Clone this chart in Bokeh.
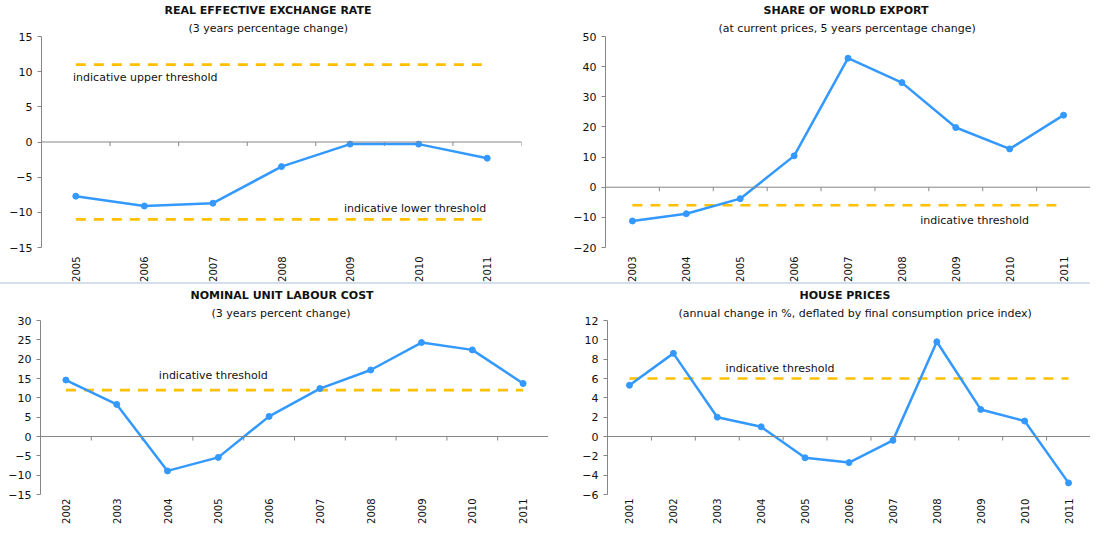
import math
from bokeh.plotting import figure
from bokeh.models import FixedTicker, Title, Range1d, Span
from bokeh.layouts import column, row
from bokeh.embed import file_html
from bokeh.resources import INLINE
from bokeh.core.properties import value

FONT = "DejaVu Sans"
BLUE = "#3399FF"
GOLD = "#FFC000"
AXIS = "#868686"
TXT = "#111111"

# ---------------- data ----------------
reer_years = ["2005", "2006", "2007", "2008", "2009", "2010", "2011"]
reer_values = [-7.7, -9.1, -8.7, -3.5, -0.3, -0.3, -2.3]
reer_thresholds = [11, -11]
reer_label_text = ["indicative upper threshold", "indicative lower threshold"]
reer_label_x = [-0.04, 3.91]
reer_label_y = [9.2, -9.4]

export_years = ["2003", "2004", "2005", "2006", "2007", "2008", "2009", "2010", "2011"]
export_values = [-11.2, -8.8, -3.8, 10.4, 42.8, 34.7, 19.8, 12.7, 23.9]
export_thresholds = [-6]
export_label_text = ["indicative threshold"]
export_label_x = [5.34]
export_label_y = [-11.2]

ulc_years = ["2002", "2003", "2004", "2005", "2006", "2007", "2008", "2009", "2010", "2011"]
ulc_values = [14.6, 8.3, -8.9, -5.4, 5.2, 12.4, 17.2, 24.3, 22.4, 13.7]
ulc_thresholds = [12]
ulc_label_text = ["indicative threshold"]
ulc_label_x = [1.83]
ulc_label_y = [15.8]

hp_years = ["2001", "2002", "2003", "2004", "2005", "2006", "2007", "2008", "2009", "2010", "2011"]
hp_values = [5.3, 8.6, 2.0, 1.0, -2.2, -2.7, -0.4, 9.8, 2.8, 1.6, -4.8]
hp_thresholds = [6]
hp_label_text = ["indicative threshold"]
hp_label_x = [2.19]
hp_label_y = [7.0]


def panel(title, subtitle, years, values, thresholds, lab_x, lab_y, lab_text,
          ymin, ymax, ystep, width, height, left, right, toff, soff,
          t_stand, s_stand, x_standoff, frame_h, styles=None):
    n = len(years)
    idx = list(range(n))
    p = figure(width=width, height=height, output_backend="svg", toolbar_location=None,
               x_range=Range1d(-0.5, n - 0.5), y_range=Range1d(ymin, ymax),
               min_border_left=left, min_border_right=right,
               min_border_top=0, min_border_bottom=0)
    if styles:
        p.styles = styles
    p.outline_line_color = None
    p.grid.visible = False
    p.background_fill_color = "white"
    p.border_fill_color = "white"

    # titles: bold main title on top, subtitle below it
    p.title.text = title
    p.title.text_font = FONT
    p.title.text_font_size = "11px"
    p.title.text_font_style = "bold"
    p.title.text_color = TXT
    p.title.align = "left"
    p.title.offset = toff
    p.title.standoff = t_stand
    st = Title(text=subtitle, text_font=FONT, text_font_size="11px", text_font_style="normal",
               text_color=TXT, align="left", offset=soff, standoff=s_stand)
    p.add_layout(st, "above")

    # y axis
    ya = p.yaxis[0]
    ya.ticker = FixedTicker(ticks=list(range(ymin, ymax + 1, ystep)))
    ya.axis_line_color = AXIS
    ya.major_tick_line_color = AXIS
    ya.major_tick_out = 4
    ya.major_tick_in = 0
    ya.minor_tick_line_color = None
    ya.minor_tick_out = 0
    ya.minor_tick_in = 0
    ya.major_label_text_font = FONT
    ya.major_label_text_font_size = "11px"
    ya.major_label_text_color = TXT
    ya.major_label_standoff = 5

    # x axis (labels only)
    xa = p.xaxis[0]
    xa.ticker = FixedTicker(ticks=idx)
    xa.major_label_overrides = {i: y for i, y in enumerate(years)}
    xa.major_label_orientation = math.pi / 2
    xa.axis_line_color = None
    xa.major_tick_line_color = None
    xa.minor_tick_line_color = None
    xa.major_tick_out = 0
    xa.major_tick_in = 0
    xa.minor_tick_out = 0
    xa.minor_tick_in = 0
    xa.major_label_text_font = FONT
    xa.major_label_text_font_size = "10px"
    xa.major_label_text_color = TXT
    xa.major_label_standoff = x_standoff

    # zero line with category-boundary ticks
    p.add_layout(Span(location=0, dimension="width", line_color=AXIS, line_width=1))
    tick_len = 4 * (ymax - ymin) / frame_h
    bx = [i + 0.5 for i in idx]
    p.segment(x0=bx, y0=[0] * n, x1=bx, y1=[-tick_len] * n, line_color=AXIS, line_width=1)

    # thresholds
    for thr in thresholds:
        p.line(x=[idx[0], idx[-1]], y=[thr, thr], line_color=GOLD, line_width=2.6,
               line_dash="10 8")
    p.text(x=lab_x, y=lab_y, text=lab_text, text_font=value(FONT), text_font_size="11px",
           text_color=TXT, text_align="left", text_baseline="middle")

    # series
    p.line(x=idx, y=values, line_color=BLUE, line_width=2.5)
    p.scatter(x=idx, y=values, size=6, color=BLUE)
    return p


SEP = {"box-shadow": "0px -2px 0px 0px #d5deec"}

p1 = panel("REAL EFFECTIVE EXCHANGE RATE", "(3 years percentage change)",
           reer_years, reer_values, reer_thresholds, reer_label_x, reer_label_y, reer_label_text,
           -15, 15, 5, 548, 284, 41, 27, 123, 147, 2, 4, 9, 210)
p2 = panel("SHARE OF WORLD EXPORT", "(at current prices, 5 years percentage change)",
           export_years, export_values, export_thresholds, export_label_x, export_label_y,
           export_label_text, -20, 50, 10, 542, 284, 57, 0, 158, 113, 2, 4, 9, 210)
p3 = panel("NOMINAL UNIT LABOUR COST", "(3 years percent change)",
           ulc_years, ulc_values, ulc_thresholds, ulc_label_x, ulc_label_y, ulc_label_text,
           -15, 30, 5, 548, 242, 40, 0, 150, 171, 4, 2, 4, 173, SEP)
p4 = panel("HOUSE PRICES", "(annual change in %, deflated by final consumption price index)",
           hp_years, hp_values, hp_thresholds, hp_label_x, hp_label_y, hp_label_text,
           -6, 12, 2, 542, 242, 59, 0, 192, 71, 4, 2, 4, 173, SEP)

layout = column(row(p1, p2), row(p3, p4))

open("out.html", "w").write(file_html(layout, INLINE))
